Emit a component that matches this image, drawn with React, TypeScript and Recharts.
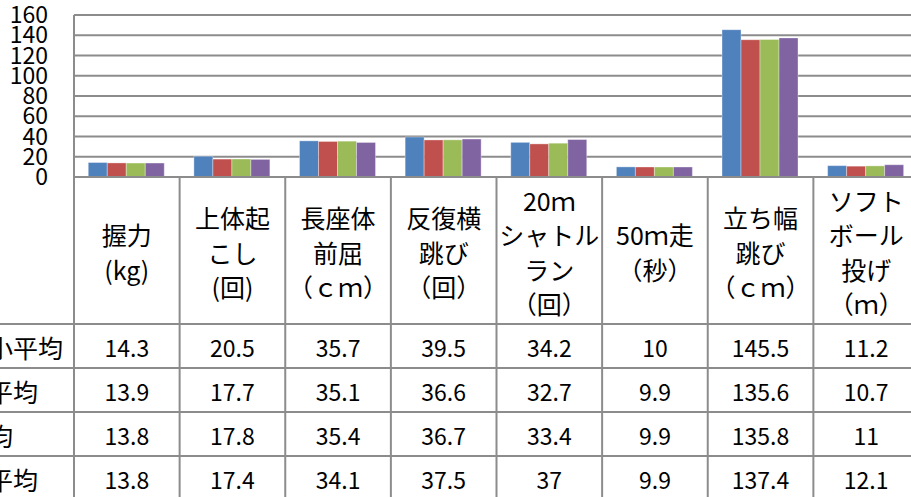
import { Bar, BarChart, CartesianGrid, XAxis, YAxis } from "recharts";

const categories = ["握力", "上体起こし", "長座体前屈", "反復横跳び", "20mシャトルラン", "50m走", "立ち幅跳び", "ソフトボール投げ"];
const headerLines = [
  ["握力", "(kg)"],
  ["上体起", "こし", "(回)"],
  ["長座体", "前屈", "（ｃｍ）"],
  ["反復横", "跳び", "（回）"],
  ["20ｍ", "シャトル", "ラン", "（回）"],
  ["50ｍ走", "（秒）"],
  ["立ち幅", "跳び", "（ｃｍ）"],
  ["ソフト", "ボール", "投げ", "（ｍ）"],
];
const seriesNames = ["〇〇小平均", "市内平均", "県平均", "全国平均"];
const schoolAvg = [14.3, 20.5, 35.7, 39.5, 34.2, 10, 145.5, 11.2];
const cityAvg = [13.9, 17.7, 35.1, 36.6, 32.7, 9.9, 135.6, 10.7];
const prefAvg = [13.8, 17.8, 35.4, 36.7, 33.4, 9.9, 135.8, 11];
const nationalAvg = [13.8, 17.4, 34.1, 37.5, 37, 9.9, 137.4, 12.1];
const yTicks = [0, 20, 40, 60, 80, 100, 120, 140, 160];

const seriesValues = [schoolAvg, cityAvg, prefAvg, nationalAvg];
const colors = ["#4F81BD", "#C0504D", "#9BBB59", "#8064A2"];

const data = categories.map((name, i) => ({
  name,
  s0: schoolAvg[i],
  s1: cityAvg[i],
  s2: prefAvg[i],
  s3: nationalAvg[i],
}));

const FONT = '"Noto Sans CJK JP", "Noto Sans", sans-serif';
const LINE = "#8c8c8c";
const OFF = 70; // part of the chart pushed off the left edge
const PLOT_LEFT = 144;
const HEADER_H = 147;
const ROW_H = 44;
const ROWS_BOTTOM = HEADER_H + ROW_H * 4;
// keep fullwidth brackets at full width (no trimming)
const noTrim: any = { textSpacingTrim: "space-all", fontFeatureSettings: '"palt" 0, "halt" 0' };

const TableColumn = (props: any) => {
  const { x, y, payload, index } = props;
  const half = payload && payload.offset ? payload.offset : 52.8;
  const lines = headerLines[index] || [];
  const lh = 34.3;
  const headMid = y + HEADER_H / 2 + 1;
  const left = x - half;
  const right = x + half;

  return (
    <g>
      {index === 0 && (
        <g>
          <line x1={left} x2={left} y1={y} y2={y + ROWS_BOTTOM + 20} stroke={LINE} strokeWidth={2} />
          {[0, 1, 2, 3, 4].map((r) => (
            <line
              key={`lh-${r}`}
              x1={0}
              x2={left}
              y1={y + HEADER_H + r * ROW_H}
              y2={y + HEADER_H + r * ROW_H}
              stroke={LINE}
              strokeWidth={2}
            />
          ))}
          {seriesNames.map((s, r) => (
            <text
              key={`sn-${r}`}
              x={8}
              y={y + HEADER_H + r * ROW_H + ROW_H / 2 + 1}
              dominantBaseline="central"
              fontSize={25}
              fontFamily={FONT}
              fill="#000"
            >
              {s}
            </text>
          ))}
        </g>
      )}
      <line x1={right} x2={right} y1={y} y2={y + ROWS_BOTTOM + 20} stroke={LINE} strokeWidth={2} />
      {[0, 1, 2, 3, 4].map((r) => (
        <line
          key={`h-${r}`}
          x1={left}
          x2={right}
          y1={y + HEADER_H + r * ROW_H}
          y2={y + HEADER_H + r * ROW_H}
          stroke={LINE}
          strokeWidth={2}
        />
      ))}
      {lines.map((t, i) => (
        <text
          key={`t-${i}`}
          x={x}
          y={headMid + (i - (lines.length - 1) / 2) * lh}
          textAnchor="middle"
          dominantBaseline="central"
          fontSize={25}
          fontFamily={FONT}
          fill="#000"
          style={noTrim}
        >
          {t}
        </text>
      ))}
      {seriesValues.map((vals, r) => (
        <text
          key={`v-${r}`}
          x={x}
          y={y + HEADER_H + r * ROW_H + ROW_H / 2 + 1}
          textAnchor="middle"
          dominantBaseline="central"
          fontSize={23}
          fontFamily={FONT}
          fill="#000"
        >
          {vals[index]}
        </text>
      ))}
    </g>
  );
};

export default function App() {
  return (
    <div
      style={{
        position: "absolute",
        left: 0,
        top: 0,
        width: 911,
        height: 497,
        overflow: "hidden",
        background: "#fff",
      }}
    >
      <div style={{ position: "absolute", left: -OFF, top: 0 }}>
        <BarChart
          width={989}
          height={507}
          data={data}
          margin={{ top: 15, right: 0, bottom: 0, left: 0 }}
          barCategoryGap="13.5%"
          barGap={0}
        >
          <CartesianGrid horizontal vertical={false} stroke={LINE} strokeWidth={2} />
          <XAxis
            dataKey="name"
            interval={0}
            height={330}
            tickSize={0}
            tickMargin={0}
            tickLine={false}
            axisLine={{ stroke: LINE, strokeWidth: 2 }}
            tick={<TableColumn />}
          />
          <YAxis
            width={PLOT_LEFT}
            domain={[0, 160]}
            ticks={yTicks}
            interval={0}
            tickSize={0}
            tickMargin={26}
            tickLine={false}
            axisLine={{ stroke: LINE, strokeWidth: 2 }}
            tick={{ fontSize: 23, fill: "#000", fontFamily: FONT }}
          />
          {colors.map((c, i) => (
            <Bar
              key={`s${i}`}
              dataKey={`s${i}`}
              name={seriesNames[i]}
              fill={c}
              stroke="#ffffff"
              strokeOpacity={0.35}
              strokeWidth={1}
              isAnimationActive={false}
            />
          ))}
        </BarChart>
      </div>
    </div>
  );
}
